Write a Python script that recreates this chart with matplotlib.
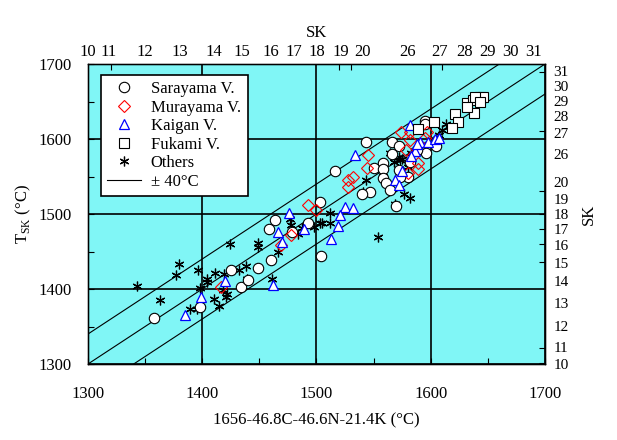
import matplotlib
matplotlib.use("Agg")
import matplotlib.pyplot as plt
from matplotlib.lines import Line2D

plt.rcParams['font.family'] = ['Liberation Serif', 'DejaVu Serif']
plt.rcParams['mathtext.fontset'] = 'custom'
plt.rcParams['mathtext.rm'] = 'Liberation Serif'
plt.rcParams['font.size'] = 12

# Seger cone (SK) numbers and their temperatures
sk_labels = [10, 11, 12, 13, 14, 15, 16, 17, 18, 19, 20, 26, 27, 28, 29, 30, 31]
sk_temps = [1300, 1320, 1350, 1380, 1410, 1435, 1460, 1480, 1500, 1520, 1530,
            1580, 1610, 1630, 1650, 1670, 1690]
# where the SK labels sit (nudged apart where ticks crowd)
sk_label_top = [1300, 1318, 1350, 1380, 1410, 1435, 1460, 1480, 1500, 1521, 1540,
                1580, 1608, 1630, 1650, 1670, 1690]
sk_label_right = [1299, 1322, 1350, 1380, 1410, 1434, 1458, 1479, 1499, 1520, 1542,
                  1580, 1608, 1630, 1650, 1670, 1691]

sarayama_x = [1358, 1398, 1425, 1434, 1440, 1449, 1460, 1458, 1464, 1493, 1479, 1504,
              1503, 1543, 1516, 1566, 1572, 1558, 1550, 1558, 1558, 1561, 1564, 1547,
              1540, 1570, 1580, 1573, 1595, 1595, 1605, 1596, 1566, 1572, 1582, 1588]
sarayama_y = [1362, 1376, 1425, 1403, 1412, 1428, 1439, 1480, 1492, 1488, 1476, 1444,
              1516, 1596, 1558, 1596, 1591, 1568, 1562, 1560, 1548, 1542, 1532, 1530,
              1527, 1511, 1549, 1549, 1624, 1620, 1591, 1582, 1580, 1559, 1570, 1585]

murayama_x = [1416, 1493, 1500, 1478, 1469, 1574, 1582, 1597, 1545, 1544, 1528, 1532,
              1528, 1582, 1589, 1589, 1580, 1578, 1595]
murayama_y = [1403, 1512, 1505, 1472, 1459, 1610, 1610, 1610, 1579, 1562, 1545, 1549,
              1536, 1599, 1568, 1560, 1555, 1586, 1602]

kaigan_x = [1385, 1399, 1420, 1462, 1476, 1466, 1470, 1489, 1534, 1582, 1591, 1598,
            1604, 1607, 1586, 1583, 1575, 1569, 1572, 1525, 1532, 1521, 1519, 1513, 1588]
kaigan_y = [1365, 1390, 1411, 1405, 1502, 1476, 1463, 1480, 1579, 1619, 1596, 1596,
            1600, 1602, 1584, 1577, 1557, 1545, 1539, 1510, 1508, 1499, 1484, 1467, 1594]

fukami_x = [1632, 1637, 1643, 1646, 1639, 1643, 1638, 1621, 1624, 1619, 1603, 1589, 1632]
fukami_y = [1648, 1652, 1656, 1656, 1656, 1650, 1635, 1634, 1623, 1615, 1623, 1613, 1643]

others_x = [1343, 1363, 1380, 1377, 1396, 1398, 1404, 1411, 1419, 1389, 1395, 1410,
            1415, 1421, 1422, 1418, 1424, 1432, 1438, 1439, 1449, 1449, 1461, 1466,
            1477, 1478, 1484, 1487, 1498, 1503, 1404, 1543, 1541, 1577, 1582, 1569,
            1558, 1557, 1564, 1573, 1572, 1580, 1583, 1591, 1594, 1613, 1610, 1607,
            1512, 1505, 1554, 1512, 1575, 1568]
others_y = [1404, 1386, 1434, 1419, 1426, 1402, 1413, 1422, 1420, 1374, 1373, 1387,
            1378, 1390, 1394, 1399, 1460, 1425, 1431, 1414, 1456, 1461, 1413, 1450,
            1494, 1485, 1474, 1481, 1483, 1488, 1410, 1546, 1530, 1527, 1521, 1514,
            1556, 1560, 1581, 1572, 1576, 1563, 1581, 1588, 1583, 1620, 1612, 1605,
            1501, 1488, 1470, 1488, 1574, 1570]

band = 40
lim = [1300, 1700]

fig = plt.figure(figsize=(6.17, 4.40), dpi=100)
ax = fig.add_axes([0.1426, 0.1727, 0.7407, 0.6818])
ax.set_facecolor('#80f6f6')

# 1:1 line and +-40 band
ax.plot(lim, lim, color='black', lw=0.8, zorder=2)
ax.plot(lim, [lim[0] + band, lim[1] + band], color='black', lw=0.8, zorder=2)
ax.plot(lim, [lim[0] - band, lim[1] - band], color='black', lw=0.8, zorder=2)

ax.plot(others_x, others_y, ls='none', marker=(6, 2, 0), ms=7, mec='black',
        mew=0.9, zorder=3)
ax.plot(sarayama_x, sarayama_y, ls='none', marker='o', ms=7.5, mfc='white',
        mec='black', mew=0.8, zorder=4)
ax.plot(murayama_x, murayama_y, ls='none', marker='D', ms=6, mfc='none',
        mec='red', mew=0.8, zorder=4)
ax.plot(kaigan_x, kaigan_y, ls='none', marker='^', ms=7.5, mfc='white',
        mec='blue', mew=0.9, zorder=4)
ax.plot(fukami_x, fukami_y, ls='none', marker='s', ms=7, mfc='white',
        mec='black', mew=0.8, zorder=4)

ax.set_xlim(lim)
ax.set_ylim(lim)
ax.set_xticks([1300, 1400, 1500, 1600, 1700])
ax.set_yticks([1300, 1400, 1500, 1600, 1700])
ax.set_xticks([1350, 1450, 1550, 1650], minor=True)
ax.set_yticks([1350, 1450, 1550, 1650], minor=True)
ax.grid(True, which='major', color='black', lw=1.2, zorder=1)
ax.tick_params(which='both', direction='in', length=4, width=0.8)
ax.tick_params(axis='x', pad=16)
ax.tick_params(axis='y', pad=12)
for s in ax.spines.values():
    s.set_linewidth(1.0)

ax.set_xlabel('1656-46.8C-46.6N-21.4K (°C)', labelpad=7)
ax.set_ylabel(r'T$_{\mathrm{SK}}$ (°C)', labelpad=4)

# top SK axis: tick marks at true temperatures, labels at nudged spots
ax_top = ax.twiny()
ax_top.set_xlim(lim)
ax_top.set_xticks(sk_label_top)
ax_top.set_xticklabels([str(s) for s in sk_labels])
ax_top.set_xticks(sk_temps, minor=True)
ax_top.tick_params(which='major', length=0, pad=3)
ax_top.tick_params(which='minor', direction='in', length=4, width=0.8)
ax_top.set_xlabel('SK', labelpad=5)

ax_right = ax.twinx()
ax_right.set_ylim(lim)
ax_right.set_yticks(sk_label_right)
ax_right.set_yticklabels([str(s) for s in sk_labels], fontsize=11)
ax_right.set_yticks(sk_temps, minor=True)
ax_right.tick_params(which='major', length=0, pad=6)
ax_right.tick_params(which='minor', direction='in', length=4, width=0.8)
ax_right.set_ylabel('SK', labelpad=9)

handles = [
    Line2D([], [], ls='none', marker='o', ms=7.5, mfc='white', mec='black', mew=0.8),
    Line2D([], [], ls='none', marker='D', ms=6, mfc='none', mec='red', mew=0.8),
    Line2D([], [], ls='none', marker='^', ms=7.5, mfc='white', mec='blue', mew=0.9),
    Line2D([], [], ls='none', marker='s', ms=7, mfc='white', mec='black', mew=0.8),
    Line2D([], [], ls='none', marker=(6, 2, 0), ms=7, mec='black', mew=0.9),
    Line2D([], [], color='black', lw=0.8),
]
names = ['Sarayama V.', 'Murayama V.', 'Kaigan V.', 'Fukami V.', 'Others', '± 40°C']
leg = ax.legend(handles, names, loc='upper left', bbox_to_anchor=(0.028, 0.965),
                borderaxespad=0, fancybox=False, framealpha=1, edgecolor='black',
                handlelength=2.0, handletextpad=0.6, labelspacing=0.15,
                borderpad=0.4)
leg.get_frame().set_linewidth(1.2)
leg.set_zorder(10)

fig.savefig('out.png', dpi=100)
